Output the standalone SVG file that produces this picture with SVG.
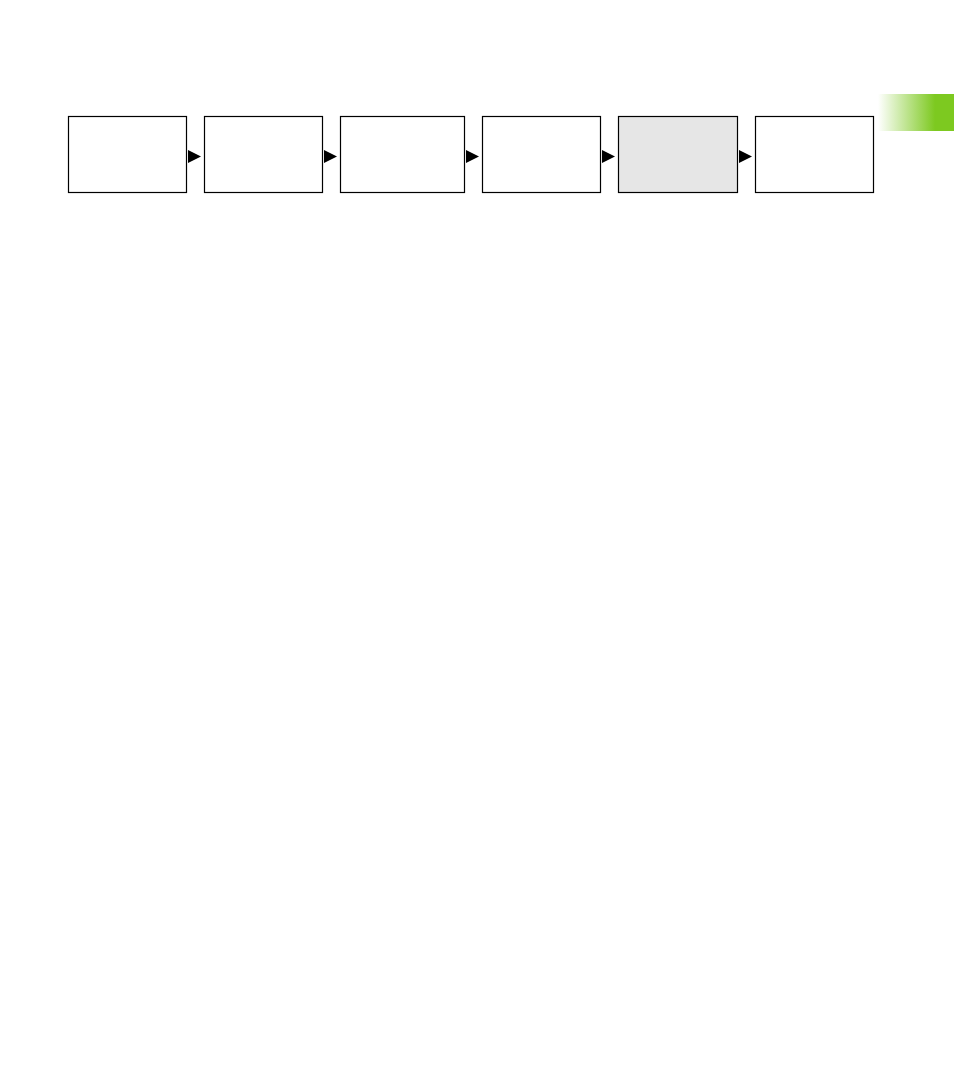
<svg xmlns="http://www.w3.org/2000/svg" width="954" height="1090" viewBox="0 0 954 1090">
<defs>
<linearGradient id="tab" x1="0" y1="0" x2="1" y2="0">
<stop offset="0" stop-color="#ffffff"/>
<stop offset="0.75" stop-color="#7dc920"/>
<stop offset="1" stop-color="#7dc920"/>
</linearGradient>
<style>
.box{fill:#ffffff;stroke:#000000;stroke-width:1.2}
.hl{fill:#e6e6e6}
.arr{fill:#000000}
</style>
</defs>
<rect width="954" height="1090" fill="#ffffff"/>
<rect id="tab" x="878" y="94" width="76" height="37" fill="url(#tab)"/>
<g id="n1"><rect class="box" x="68.5" y="116.5" width="118" height="76"/></g>
<g id="n2"><rect class="box" x="204.5" y="116.5" width="118" height="76"/></g>
<g id="n3"><rect class="box" x="340.5" y="116.5" width="124" height="76"/></g>
<g id="n4"><rect class="box" x="482.5" y="116.5" width="118" height="76"/></g>
<g id="n5"><rect class="box hl" x="618.5" y="116.5" width="119" height="76"/></g>
<g id="n6"><rect class="box" x="755.5" y="116.5" width="118" height="76"/></g>
<g id="connectors">
<polygon class="arr" points="188,150 201,156.5 188,163"/>
<polygon class="arr" points="324,150 337,156.5 324,163"/>
<polygon class="arr" points="466,150 479,156.5 466,163"/>
<polygon class="arr" points="602,150 615,156.5 602,163"/>
<polygon class="arr" points="739,150 752,156.5 739,163"/>
</g>
</svg>
